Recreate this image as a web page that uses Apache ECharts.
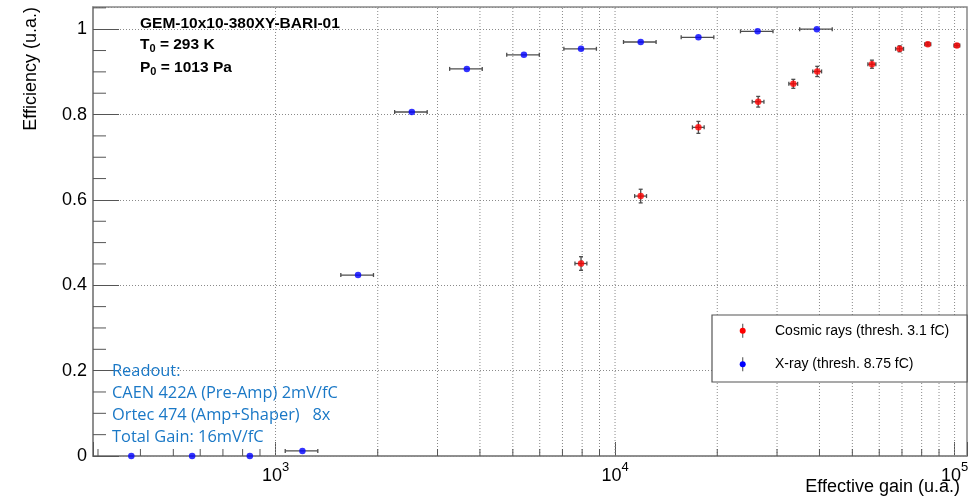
<!DOCTYPE html>
<html>
<head>
<meta charset="utf-8">
<script src="https://cdn.jsdelivr.net/npm/echarts@6/dist/echarts.min.js"></script>
<style>
  html, body { margin: 0; padding: 0; background: #ffffff; }
  #chart { width: 970px; height: 496px; }
</style>
</head>
<body>
<div id="chart"></div>
<script>
// X-ray source: effective gain and efficiency with their uncertainties
const xrayGain    = [376, 568, 840, 1200, 1750, 2520, 3660, 5390, 7940, 11900, 17600, 26300, 39300];
const xrayGainErr = [0, 0, 0, 132, 193, 277, 403, 593, 873, 1310, 1940, 2890, 4320];
const xrayEff     = [0, 0, 0, 0.012, 0.424, 0.806, 0.907, 0.940, 0.954, 0.970, 0.981, 0.995, 1.0];
const xrayEffErr  = [0, 0, 0, 0, 0, 0, 0, 0, 0, 0, 0, 0, 0];

// Cosmic rays: effective gain and efficiency with their uncertainties
const cosmicGain    = [7940, 11900, 17600, 26400, 33500, 39400, 57100, 68900, 83400, 101600];
const cosmicGainErr = [320, 480, 700, 1050, 1000, 1180, 1540, 1860, 1700, 2000];
const cosmicEff     = [0.451, 0.609, 0.770, 0.830, 0.872, 0.901, 0.918, 0.954, 0.965, 0.962];
const cosmicEffErr  = [0.016, 0.016, 0.014, 0.0125, 0.0105, 0.012, 0.0095, 0.007, 0.004, 0.004];

const seriesNames  = ['Cosmic rays (thresh. 3.1 fC)', 'X-ray (thresh. 8.75 fC)'];
const seriesColors = ['#ff0000', '#0000ff'];

// Axis ranges and tick positions
const gainRange = [290, 108800];
const effRange  = [0, 1.052];
const effStep   = 0.2;
const gainGridLines  = [1000, 2000, 3000, 4000, 5000, 6000, 7000, 8000, 9000,
                        10000, 20000, 30000, 40000, 50000, 60000, 70000, 80000, 90000, 100000];
const gainMinorTicks = [300, 400, 500, 600, 700, 800, 900,
                        2000, 3000, 4000, 5000, 6000, 7000, 8000, 9000,
                        20000, 30000, 40000, 50000, 60000, 70000, 80000, 90000];
const effMinorTicks  = [0.05, 0.1, 0.15, 0.25, 0.3, 0.35, 0.45, 0.5, 0.55,
                        0.65, 0.7, 0.75, 0.85, 0.9, 0.95, 1.05];

// Text blocks
const detectorName = 'GEM-10x10-380XY-BARI-01';
const temperatureText = ['T', '0', ' = 293 K'];
const pressureText    = ['P', '0', ' = 1013 Pa'];
const readoutLines = ['Readout:', 'CAEN 422A (Pre-Amp) 2mV/fC', 'Ortec 474 (Amp+Shaper)   8x', 'Total Gain: 16mV/fC'];
const xTitle = 'Effective gain (u.a.)';
const yTitle = 'Efficiency (u.a.)';

const FONT = '"Liberation Sans", Arial, Helvetica, sans-serif';
const GRID_COLOR = '#8a8a8a';
const TICK_COLOR = '#555555';
const ERR_COLOR = '#4d4d4d';

const chart = echarts.init(document.getElementById('chart'), null, { renderer: 'canvas' });

function line(p1, p2, style) {
  return { type: 'line', shape: { x1: p1[0], y1: p1[1], x2: p2[0], y2: p2[1] }, style: style };
}

// Dotted vertical grid lines at every decade subdivision from 10^3 upward
const verticalGrid = {
  type: 'custom', silent: true, z: 1,
  data: gainGridLines.map(v => [v, 0]),
  encode: { x: 0, y: 1 },
  renderItem(params, api) {
    const v = api.value(0);
    const b = api.coord([v, effRange[0]]);
    const t = api.coord([v, effRange[1]]);
    return line(b, t, { stroke: GRID_COLOR, lineWidth: 1, lineDash: [1, 2] });
  }
};

// Short minor ticks along the bottom axis
const gainMinorTickSeries = {
  type: 'custom', silent: true, z: 2,
  data: gainMinorTicks.map(v => [v, 0]),
  encode: { x: 0, y: 1 },
  renderItem(params, api) {
    const b = api.coord([api.value(0), effRange[0]]);
    return line(b, [b[0], b[1] - 7], { stroke: TICK_COLOR, lineWidth: 1 });
  }
};

// Minor ticks along the left axis
const effMinorTickSeries = {
  type: 'custom', silent: true, z: 2,
  data: effMinorTicks.map(v => [gainRange[0], v]),
  encode: { x: 0, y: 1 },
  renderItem(params, api) {
    const p = api.coord([gainRange[0], api.value(1)]);
    return line(p, [p[0] + 13, p[1]], { stroke: TICK_COLOR, lineWidth: 1 });
  }
};

// Horizontal and vertical error bars with small end caps
function errorBars(gain, gainErr, eff, effErr) {
  return {
    type: 'custom', silent: true, z: 3,
    data: gain.map((g, i) => [g, eff[i], gainErr[i], effErr[i]]),
    encode: { x: 0, y: 1 },
    renderItem(params, api) {
      const x = api.value(0), y = api.value(1), ex = api.value(2), ey = api.value(3);
      const st = { stroke: ERR_COLOR, lineWidth: 1.3 };
      const children = [];
      const cap = 2;
      if (ex > 0) {
        const l = api.coord([x - ex, y]), r = api.coord([x + ex, y]);
        children.push(line(l, r, st));
        children.push(line([l[0], l[1] - cap], [l[0], l[1] + cap], st));
        children.push(line([r[0], r[1] - cap], [r[0], r[1] + cap], st));
      }
      if (ey > 0) {
        const b = api.coord([x, y - ey]), t = api.coord([x, y + ey]);
        children.push(line(b, t, st));
        children.push(line([b[0] - cap, b[1]], [b[0] + cap, b[1]], st));
        children.push(line([t[0] - cap, t[1]], [t[0] + cap, t[1]], st));
      }
      return { type: 'group', children: children };
    }
  };
}

function points(name, gain, eff, color) {
  return {
    type: 'scatter', name: name, z: 4, clip: false, silent: true,
    symbol: 'circle', symbolSize: 6.5,
    itemStyle: { color: color, borderWidth: 0 },
    data: gain.map((g, i) => [g, eff[i]])
  };
}

// Rich text styles for sub/superscripts
const titleRich = {
  m: { fontFamily: FONT, fontWeight: 'bold', fontSize: 15.5, lineHeight: 16, verticalAlign: 'top', color: '#000' },
  s: { fontFamily: FONT, fontWeight: 'bold', fontSize: 11, lineHeight: 11, padding: [7, 0, 0, 0], verticalAlign: 'top', color: '#000' }
};
function subscriptText(parts) {
  return '{m|' + parts[0] + '}{s|' + parts[1] + '}{m|' + parts[2] + '}';
}

// Legend box drawn with graphic elements
const legendBox = { x: 712, y: 315, w: 255, h: 67 };
const legendRows = [330.7, 364.3];
const legendGraphics = [
  { type: 'rect', z: 100, shape: { x: legendBox.x, y: legendBox.y, width: legendBox.w, height: legendBox.h },
    style: { fill: '#ffffff', stroke: '#555555', lineWidth: 1.2 } }
];
seriesNames.forEach((name, i) => {
  const cy = legendRows[i];
  legendGraphics.push({ type: 'line', z: 101, shape: { x1: 742.7, y1: cy - 7, x2: 742.7, y2: cy + 7 },
    style: { stroke: '#666666', lineWidth: 1.2 } });
  legendGraphics.push({ type: 'circle', z: 102, shape: { cx: 742.7, cy: cy, r: 3 }, style: { fill: seriesColors[i] } });
  legendGraphics.push({ type: 'text', z: 102, x: 775, y: cy,
    style: { text: name, fontFamily: FONT, fontSize: 14, fill: '#000', align: 'left', verticalAlign: 'middle' } });
});

const option = {
  backgroundColor: '#ffffff',
  animation: false,
  grid: {
    left: 93, right: 3, top: 7, bottom: 40,
    containLabel: false, outerBoundsMode: 'none',
    show: true, borderColor: '#888888', borderWidth: 1.5, backgroundColor: 'transparent'
  },
  xAxis: {
    type: 'log', logBase: 10, min: gainRange[0], max: gainRange[1],
    axisLine: { show: true, lineStyle: { color: '#888888', width: 1.5 } },
    axisTick: { show: true, inside: true, length: 14, lineStyle: { color: TICK_COLOR, width: 1 } },
    minorTick: { show: false },
    splitLine: { show: false },
    axisLabel: {
      margin: 5, color: '#000',
      formatter(v) {
        const e = Math.log10(v);
        const r = Math.round(e);
        return Math.abs(e - r) < 1e-6 ? '{b|10}{s|' + r + '}' : '';
      },
      rich: {
        b: { fontFamily: FONT, fontSize: 18, lineHeight: 18, padding: [6, 0, 0, 0], verticalAlign: 'top', color: '#000' },
        s: { fontFamily: FONT, fontSize: 13, lineHeight: 13, verticalAlign: 'top', color: '#000' }
      }
    }
  },
  yAxis: {
    type: 'value', min: effRange[0], max: effRange[1], interval: effStep,
    axisLine: { show: true, lineStyle: { color: '#888888', width: 1.5 } },
    axisTick: { show: true, inside: true, length: 26, lineStyle: { color: TICK_COLOR, width: 1 } },
    splitLine: { show: true, lineStyle: { color: GRID_COLOR, width: 1, type: [1, 2] } },
    axisLabel: {
      margin: 6, color: '#000', fontFamily: FONT, fontSize: 18, showMaxLabel: false,
      formatter(v) {
        const k = v / effStep;
        return Math.abs(k - Math.round(k)) < 1e-6 ? String(+v.toFixed(2)) : '';
      }
    }
  },
  series: [
    verticalGrid,
    gainMinorTickSeries,
    effMinorTickSeries,
    errorBars(cosmicGain, cosmicGainErr, cosmicEff, cosmicEffErr),
    errorBars(xrayGain, xrayGainErr, xrayEff, xrayEffErr),
    points(seriesNames[0], cosmicGain, cosmicEff, seriesColors[0]),
    points(seriesNames[1], xrayGain, xrayEff, seriesColors[1])
  ],
  graphic: [
    { type: 'text', z: 50, x: 140, y: 15.9,
      style: { text: '{m|' + detectorName + '}', rich: titleRich, align: 'left', verticalAlign: 'top' } },
    { type: 'text', z: 50, x: 140, y: 36.6,
      style: { text: subscriptText(temperatureText), rich: titleRich, align: 'left', verticalAlign: 'top' } },
    { type: 'text', z: 50, x: 140, y: 59.9,
      style: { text: subscriptText(pressureText), rich: titleRich, align: 'left', verticalAlign: 'top' } },
    { type: 'text', z: 50, x: 112, y: 360,
      style: { text: readoutLines.join('\n'), fontFamily: '"Open Sans", sans-serif', fontSize: 16.4,
               lineHeight: 22, fill: '#1a78c6', align: 'left', verticalAlign: 'top' } },
    { type: 'text', z: 50, x: 960, y: 487,
      style: { text: xTitle, fontFamily: FONT, fontSize: 18, fill: '#000', align: 'right', verticalAlign: 'middle' } },
    { type: 'text', z: 50, x: 31, y: 7, rotation: Math.PI / 2,
      style: { text: yTitle, fontFamily: FONT, fontSize: 18, fill: '#000', align: 'right', verticalAlign: 'middle' } }
  ].concat(legendGraphics)
};

chart.setOption(option);
</script>
</body>
</html>
